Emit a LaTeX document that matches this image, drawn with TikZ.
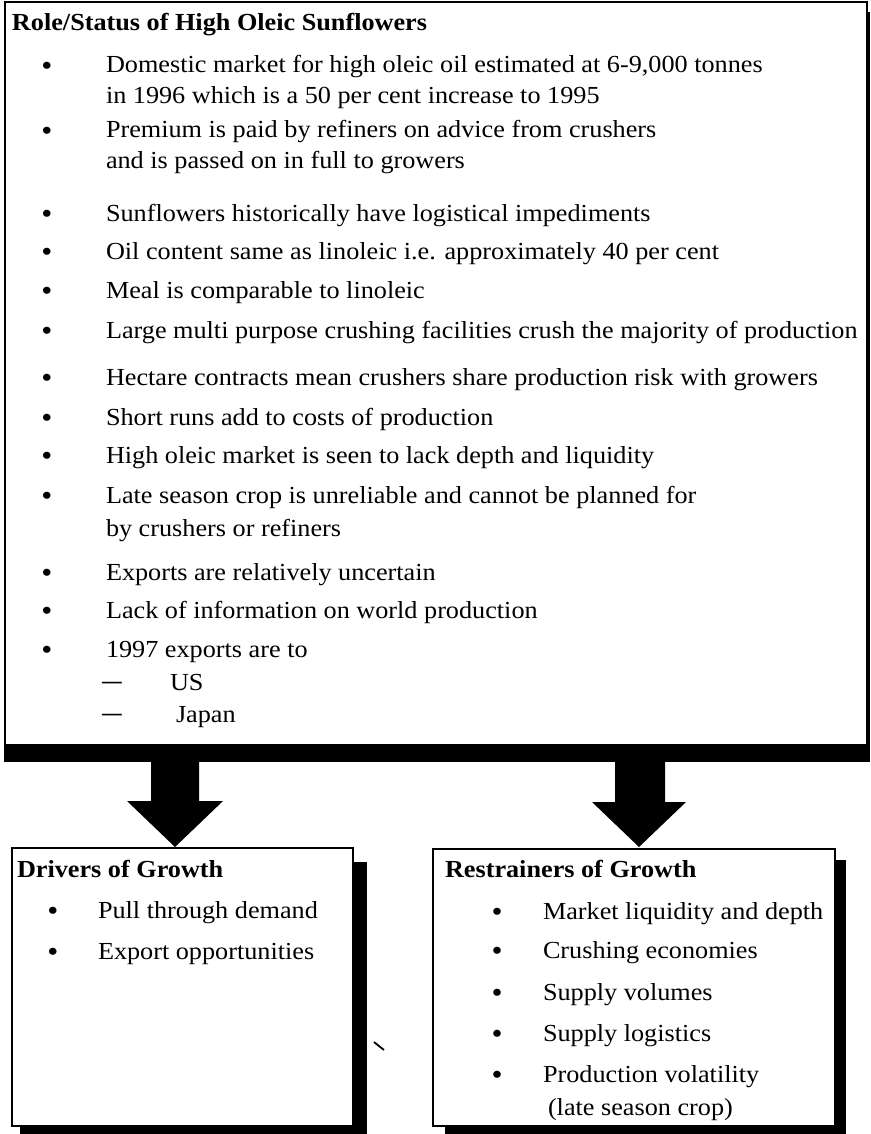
\documentclass[tikz,border=0pt]{standalone}
\usepackage{fontspec}
\setmainfont{Liberation Serif}[FakeStretch=1.07]
\usetikzlibrary{calc}
\newcommand\bodyfnt{\fontsize{24.5}{30}\selectfont}
\begin{document}
\begin{tikzpicture}[x=1pt,y=-1pt,
  every node/.style={inner sep=0pt,outer sep=0pt},
  txt/.style={anchor=base west,font=\bodyfnt},
  ttl/.style={anchor=base west,font=\bodyfnt\bfseries},
  bul/.style={anchor=base,font=\bodyfnt,scale=1.2,yshift=-2pt},
  box/.style={draw=black,fill=white,line width=1.5pt,anchor=north west},
  shadow/.style={fill=black},
  blockarrow/.style={fill=black}]
\useasboundingbox (0,0) rectangle (870,1134);
% shadows
\fill[shadow] (4,745) rectangle (870,762);
\fill[shadow] (20,862) rectangle (367,1134);
\fill[shadow] (445,860) rectangle (846,1134);
% boxes
\node[box,minimum width=862pt,minimum height=743pt] (role) at (5,2) {};
\fill[shadow] (role.north east) ++(-1,10) rectangle (870,745);
\node[box,minimum width=341pt,minimum height=278pt] (drv) at (12,848) {};
\node[box,minimum width=402pt,minimum height=277pt] (rst) at (433,849) {};
% block arrows
\coordinate (tipA) at (175,847);
\coordinate (tipB) at (639,847);
\fill[blockarrow] (tipA) -- ++(-48,-46) -- ++(24,0) -- ++(0,-41) -- ++(48,0) -- ++(0,41) -- ++(24,0) -- cycle;
\fill[blockarrow] (tipB) -- ++(-47,-45) -- ++(23,0) -- ++(0,-42) -- ++(50,0) -- ++(0,42) -- ++(21,0) -- cycle;
% top box text
\node[ttl] (rt) at (12,31) {Role/Status of High Oleic Sunflowers};
\foreach \y/\n in {73/1,138/2,221/3,259/4,298/5,338/6,385/7,425/8,463/9,503/10,580/11,618/12,657/13}
  \node[bul] (b\n) at (47,\y) {•};
\node[txt] (l1a) at (106,73) {Domestic market for high oleic oil estimated at 6-9,000 tonnes};
\node[txt] (l1b) at (106,104) {in 1996 which is a 50 per cent increase to 1995};
\node[txt] (l2a) at (106,138) {Premium is paid by refiners on advice from crushers};
\node[txt] (l2b) at (106,168) {and is passed on in full to growers};
\node[txt] (l3) at (106,221) {Sunflowers historically have logistical impediments};
\node[txt] (l4) at (106,259) {Oil content same as linoleic i.e. approximately 40 per cent};
\node[txt] (l5) at (106,298) {Meal is comparable to linoleic};
\node[txt] (l6) at (106,338) {Large multi purpose crushing facilities crush the majority of production};
\node[txt] (l7) at (106,385) {Hectare contracts mean crushers share production risk with growers};
\node[txt] (l8) at (106,425) {Short runs add to costs of production};
\node[txt] (l9) at (106,463) {High oleic market is seen to lack depth and liquidity};
\node[txt] (l10a) at (106,503) {Late season crop is unreliable and cannot be planned for};
\node[txt] (l10b) at (106,536) {by crushers or refiners};
\node[txt] (l11) at (106,580) {Exports are relatively uncertain};
\node[txt] (l12) at (106,618) {Lack of information on world production};
\node[txt] (l13) at (106,657) {1997 exports are to};
\node[txt] (d1) at (102,690) {\scalebox{0.75}[1.3]{—}};
\node[txt] (us) at (170,690) {US};
\node[txt] (d2) at (102,722) {\scalebox{0.75}[1.3]{—}};
\node[txt] (jp) at (176,722) {Japan};
% drivers box text
\node[ttl] (dt) at (17,877) {Drivers of Growth};
\node[bul] (db1) at (53,918) {•};
\node[bul] (db2) at (53,959) {•};
\node[txt] (dl1) at (98,918) {Pull through demand};
\node[txt] (dl2) at (98,959) {Export opportunities};
% restrainers box text
\node[ttl] (rsT) at (445,877) {Restrainers of Growth};
\foreach \y/\n in {919/1,958/2,1000/3,1041/4,1082/5}
  \node[bul] (rb\n) at (497,\y) {•};
\node[txt] (rl1) at (543,919) {Market liquidity and depth};
\node[txt] (rl2) at (543,958) {Crushing economies};
\node[txt] (rl3) at (543,1000) {Supply volumes};
\node[txt] (rl4) at (543,1041) {Supply logistics};
\node[txt] (rl5a) at (543,1082) {Production volatility};
\node[txt] (rl5b) at (548,1115) {(late season crop)};
% stray mark
\draw[line width=1.8pt] (374,1042) -- (384,1050);
\end{tikzpicture}
\end{document}
